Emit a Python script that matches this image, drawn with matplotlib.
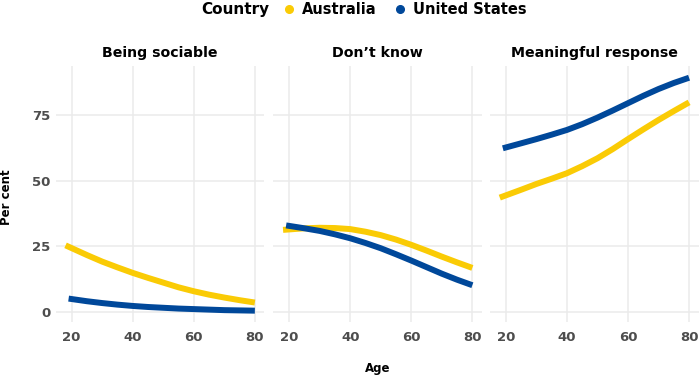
import matplotlib
matplotlib.use('Agg')
from matplotlib import pyplot as plt
from matplotlib.lines import Line2D

plt.rcParams['font.family'] = ['DejaVu Sans']

# Data
aus_age = [18, 25, 30, 35, 40, 45, 50, 55, 60, 65, 70, 75, 80]
us_age = [19, 25, 30, 35, 40, 45, 50, 55, 60, 65, 70, 75, 80]

panels = ["Being sociable", "Don\u2019t know", "Meaningful response"]

aus_sociable = [25.3, 21.6, 19.1, 16.9, 14.8, 12.9, 11.1, 9.3, 7.8, 6.5, 5.4, 4.4, 3.5]
us_sociable = [5.0, 4.0, 3.3, 2.7, 2.2, 1.8, 1.5, 1.2, 1.0, 0.8, 0.6, 0.5, 0.4]

aus_dontknow = [31.2, 31.8, 32.0, 31.9, 31.5, 30.5, 29.2, 27.5, 25.5, 23.3, 21.0, 18.8, 16.7]
us_dontknow = [32.9, 31.8, 30.8, 29.5, 28.0, 26.2, 24.2, 21.9, 19.5, 17.0, 14.5, 12.2, 10.1]

aus_meaningful = [43.5, 46.5, 48.7, 50.7, 52.8, 55.5, 58.5, 62.0, 65.8, 69.5, 73.1, 76.5, 79.8]
us_meaningful = [62.3, 64.2, 65.8, 67.5, 69.3, 71.5, 74.0, 76.7, 79.5, 82.3, 84.9, 87.2, 89.2]

aus_series = [aus_sociable, aus_dontknow, aus_meaningful]
us_series = [us_sociable, us_dontknow, us_meaningful]

x_ticks = [20, 40, 60, 80]
y_ticks = [0, 25, 50, 75]

yellow = '#FACB05'
blue = '#00489A'
tick_grey = '#4D4D4D'

fig = plt.figure(figsize=(7, 3.78), dpi=100)

lefts = [0.0797, 0.3904, 0.70]
for i, left in enumerate(lefts):
    ax = fig.add_axes([left, 0.1476, 0.2979, 0.6773])
    ax.plot(aus_age, aus_series[i], color=yellow, linewidth=4.3, solid_capstyle='butt')
    ax.plot(us_age, us_series[i], color=blue, linewidth=4.3, solid_capstyle='butt')
    ax.set_xlim(14.8, 83.1)
    ax.set_ylim(-4.0, 93.6)
    ax.set_xticks(x_ticks)
    ax.set_yticks(y_ticks)
    ax.grid(True, color='#EBEBEB', linewidth=1.1)
    ax.set_axisbelow(True)
    for s in ax.spines.values():
        s.set_visible(False)
    ax.tick_params(length=0, labelsize=9.5, labelcolor=tick_grey)
    ax.tick_params(axis='x', pad=6.5)
    ax.tick_params(axis='y', pad=4)
    for lab in ax.get_xticklabels() + ax.get_yticklabels():
        lab.set_fontweight('bold')
    if i > 0:
        ax.set_yticklabels([])
    ax.set_title(panels[i], fontsize=10.2, fontweight='bold', pad=6.5)

fig.text(0.009, 0.479, "Per cent", rotation=90, ha='center', va='center',
         fontsize=8.5, fontweight='bold')
fig.text(0.54, 0.026, "Age", ha='center', va='center', fontsize=8.5, fontweight='bold')

# Legend across the top
ly = 0.975
fig.text(0.287, ly, "Country", ha='left', va='center', fontsize=11, fontweight='bold')
fig.add_artist(Line2D([0.413], [ly], marker='o', markersize=5.5, color=yellow,
                      linestyle='none', transform=fig.transFigure))
fig.text(0.431, ly, "Australia", ha='left', va='center', fontsize=10.5, fontweight='bold')
fig.add_artist(Line2D([0.571], [ly], marker='o', markersize=5.5, color=blue,
                      linestyle='none', transform=fig.transFigure))
fig.text(0.590, ly, "United States", ha='left', va='center', fontsize=10.5, fontweight='bold')

plt.savefig('out.png', dpi=100)
